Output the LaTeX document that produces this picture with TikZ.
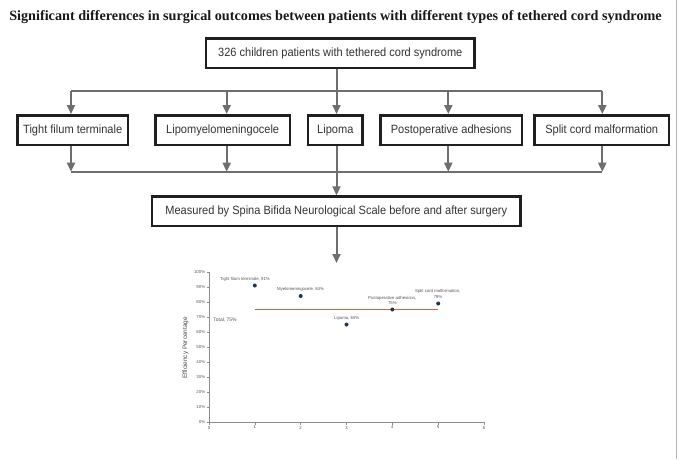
\documentclass[tikz,border=0pt]{standalone}
\usepackage{fontspec}
\usetikzlibrary{arrows.meta}
\newfontfamily\boxfont{Liberation Sans}[FakeStretch=0.92]
\newfontfamily\titlefont{Liberation Serif}
\newfontfamily\chartfont{Liberation Sans}
\definecolor{conngray}{HTML}{6E6E6E}
\definecolor{boxtext}{HTML}{333333}
\definecolor{axisgray}{HTML}{8C8C8C}
\definecolor{ticktext}{HTML}{555555}
\definecolor{totalline}{HTML}{C0693F}
\definecolor{dotblue}{HTML}{1F3550}
\begin{document}
\begin{tikzpicture}[x=1pt,y=-1pt,
  stepbox/.style={draw=black!88, line width=2.5pt, fill=white, inner sep=0pt,
    minimum height=29.5pt, text=boxtext, font=\boxfont\fontsize{12}{14}\selectfont},
  conn/.style={draw=conngray, line width=2pt},
  connarrow/.style={conn, -{Triangle[width=8pt,length=9pt]}},
  tinylabel/.style={font=\chartfont\fontsize{4.3}{5.3}\selectfont, text=ticktext, inner sep=0pt, align=center},
  ticklabel/.style={font=\chartfont\fontsize{4.3}{5}\selectfont, text=ticktext, inner sep=0pt},
  dot/.style={circle, fill=dotblue, inner sep=0pt, minimum size=4pt}
]
\useasboundingbox (0,0) rectangle (680,459);
\fill[white] (0,0) rectangle (680,459);
% right frame line
\draw[black!28, line width=1pt] (676.7,0) -- (676.7,459);

% title
\node[font=\titlefont\bfseries\fontsize{14.2}{16}\selectfont, inner sep=0pt, text=black!90] (title) at (335.5,17.5)
  {Significant differences in surgical outcomes between patients with different types of tethered cord syndrome};

% boxes
\node[stepbox, minimum width=268.8pt] (top) at (340.3,53) {326 children patients with tethered cord syndrome};
\node[stepbox, minimum width=110.8pt] (tfil) at (72.7,130) {Tight filum terminale};
\node[stepbox, minimum width=134.2pt] (lipo) at (222.7,130) {Lipomyelomeningocele};
\node[stepbox, minimum width=54.8pt] (lipoma) at (335.3,130) {Lipoma};
\node[stepbox, minimum width=141.5pt] (postop) at (451.3,130) {Postoperative adhesions};
\node[stepbox, minimum width=134.2pt] (split) at (601.7,130) {Split cord malformation};
\node[stepbox, minimum width=368.8pt] (meas) at (336.3,211.3) {Measured by Spina Bifida Neurological Scale before and after surgery};

% upper bus
\coordinate (ua) at (71,90.7);
\coordinate (ub) at (226.7,90.7);
\coordinate (uc) at (336.5,90.7);
\coordinate (ud) at (448.3,90.7);
\coordinate (ue) at (602.3,90.7);
\draw[conn] (top.south -| uc) -- (uc);
\draw[conn] (ua) -- (ue);
\draw[connarrow] (ua) -- (ua |- tfil.north);
\draw[connarrow] (ub) -- (ub |- lipo.north);
\draw[connarrow] (uc) -- (uc |- lipoma.north);
\draw[connarrow] (ud) -- (ud |- postop.north);
\draw[connarrow] (ue) -- (ue |- split.north);

% lower bus
\coordinate (la) at (71,171.7);
\coordinate (lb) at (226.7,171.7);
\coordinate (lc) at (336.5,171.7);
\coordinate (ld) at (448.3,171.7);
\coordinate (le) at (602.3,171.7);
\draw[conn] (la) -- (le);
\draw[connarrow] (la |- tfil.south) -- (la);
\draw[connarrow] (lb |- lipo.south) -- (lb);
\draw[connarrow] (ld |- postop.south) -- (ld);
\draw[connarrow] (le |- split.south) -- (le);
\draw[connarrow] (lc |- lipoma.south) -- (lc |- meas.north);

% to chart
\coordinate (charttop) at (336.5,263);
\draw[connarrow] (meas.south -| charttop) -- (charttop);

% ---------- chart ----------
\draw[axisgray, line width=0.7pt] (209,272) -- (209,422) -- (484,422);
\foreach \i in {0,...,10} {
  \pgfmathsetmacro{\yy}{422-15*\i}
  \draw[axisgray, line width=0.5pt] (206.5,\yy) -- (209,\yy);
  \pgfmathtruncatemacro{\pc}{10*\i}
  \node[ticklabel, anchor=east] at (205.3,\yy) {\pc\%};
}
\foreach \i in {0,...,6} {
  \pgfmathsetmacro{\xx}{209+45.83*\i}
  \draw[axisgray, line width=0.5pt] (\xx,422) -- (\xx,424.5);
  \node[ticklabel, anchor=north] at (\xx,425.8) {\i};
}
\node[font=\chartfont\fontsize{6.4}{7}\selectfont, text=black!70, rotate=90, inner sep=0pt] (ylab) at (185.5,348) {Efficiency Percentage};

% total line
\coordinate (t1) at (254.8,309.5);
\coordinate (t2) at (438.2,309.5);
\draw[totalline, line width=1.1pt] (t1) -- (t2);

% points
\node[dot] (p1) at (254.8,285.5) {};
\node[dot] (p2) at (300.7,296) {};
\node[dot] (p3) at (346.5,324.5) {};
\node[dot] (p4) at (392.3,309.5) {};
\node[dot] (p5) at (438.2,303.5) {};

% labels
\node[tinylabel] (l1) at (245,279) {Tight filum terminale, 91\%};
\node[tinylabel] (l2) at (300.5,289.3) {Myelomeningocele, 84\%};
\node[tinylabel] (l3) at (346.7,318.2) {Lipoma, 65\%};
\node[tinylabel] (l4) at (392.3,300.7) {Postoperative adhesions,\\75\%};
\node[tinylabel] (l5) at (437.8,294) {Split cord malformation,\\79\%};
\node[tinylabel, font=\chartfont\fontsize{5}{6}\selectfont] (l6) at (225,320.3) {Total, 75\%};
\end{tikzpicture}
\end{document}
